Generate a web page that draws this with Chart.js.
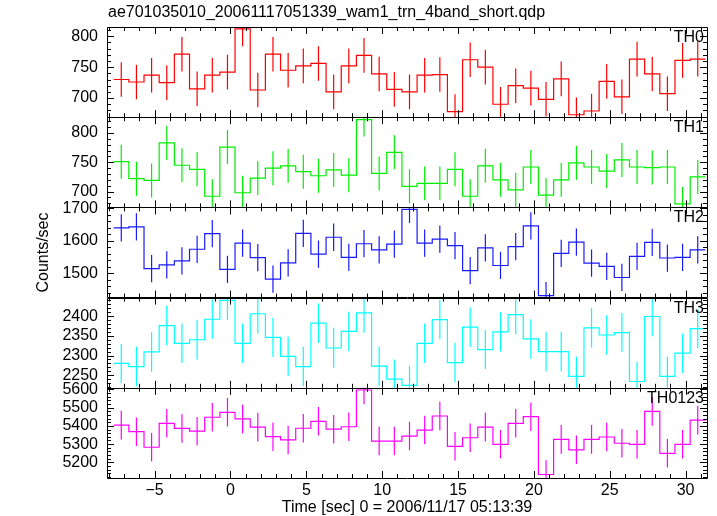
<!DOCTYPE html>
<html>
<head>
<meta charset="utf-8">
<script src="https://cdn.jsdelivr.net/npm/chart.js@4/dist/chart.umd.min.js"></script>
<style>
html,body{margin:0;padding:0;background:#fff;}
canvas{display:block;}
</style>
</head>
<body>
<canvas id="c" width="717" height="516"></canvas>
<script>
// ---- data ----
const chartTitle = 'ae701035010_20061117051339_wam1_trn_4band_short.qdp';
const xTitle = 'Time [sec] 0 = 2006/11/17 05:13:39';
const yTitle = 'Counts/sec';
const times = [-7.2,-6.2,-5.2,-4.2,-3.2,-2.2,-1.2,-0.2,0.8,1.8,2.8,3.8,4.8,5.8,6.8,7.8,8.8,9.8,10.8,11.8,12.8,13.8,14.8,15.8,16.8,17.8,18.8,19.8,20.8,21.8,22.8,23.8,24.8,25.8,26.8,27.8,28.8,29.8,30.8];
const th0 = [730,726,737,725,771,715,737,742,812,713,771,745,752,756,710,752,769,739,714,710,737,738,678,762,750,690,720,716,698,731,673,679,727,702,763,739,707,761,763];
const th1 = [751,722,719,783,745,738,692,776,698,723,740,744,734,727,737,728,823,731,767,709,714,714,738,692,744,720,703,742,694,720,749,742,735,754,742,741,742,679,725];
const th2 = [1640,1643,1514,1526,1538,1574,1622,1512,1593,1548,1482,1532,1623,1559,1611,1549,1591,1572,1590,1697,1593,1605,1585,1508,1578,1524,1582,1646,1431,1561,1596,1531,1521,1487,1552,1595,1547,1549,1572];
const th3 = [2280,2272,2309,2376,2331,2340,2392,2440,2331,2406,2346,2298,2272,2382,2319,2361,2408,2273,2240,2224,2331,2391,2282,2372,2315,2360,2404,2342,2310,2310,2247,2370,2352,2358,2234,2399,2247,2306,2368];
const th0123 = [5404,5368,5283,5414,5386,5371,5447,5474,5438,5393,5341,5323,5387,5425,5382,5395,5596,5317,5317,5344,5377,5454,5288,5335,5393,5299,5414,5450,5134,5326,5269,5326,5339,5305,5299,5479,5250,5299,5431];
const errTH0 = 28, errTH1 = 29, errTH2 = 42, errTH3 = 50, errTH0123 = 78;
const xTicks = [-5,0,5,10,15,20,25,30];
const yTicksTH0 = [700,750,800];
const yTicksTH1 = [700,750,800];
const yTicksTH2 = [1500,1600,1700];
const yTicksTH3 = [2250,2300,2350,2400];
const yTicksTH0123 = [5200,5300,5400,5500,5600];
const panelNames = ['TH0','TH1','TH2','TH3','TH0123'];

// ---- styling / layout ----
const FONT = 'Liberation Sans, Arial, sans-serif';
const binHalf = 0.5;
const panels = [
  {id:'y0', name:panelNames[0], values:th0, err:errTH0, color:'#ff0000', min:669, max:815, ticks:yTicksTH0, minor:10},
  {id:'y1', name:panelNames[1], values:th1, err:errTH1, color:'#00ee00', min:673, max:827, ticks:yTicksTH1, minor:10},
  {id:'y2', name:panelNames[2], values:th2, err:errTH2, color:'#1a1aff', min:1425, max:1703, ticks:yTicksTH2, minor:20},
  {id:'y3', name:panelNames[3], values:th3, err:errTH3, color:'#00ffff', min:2218, max:2447, ticks:yTicksTH3, minor:10},
  {id:'y4', name:panelNames[4], values:th0123, err:errTH0123, color:'#ff00ff', min:5115, max:5608, ticks:yTicksTH0123, minor:20}
];

const datasets = [];
panels.forEach(p => {
  const step = [];
  const errs = [];
  times.forEach((t, i) => {
    const v = p.values[i];
    step.push({x: t - binHalf, y: v}, {x: t + binHalf, y: v});
    errs.push({x: t, y: v - p.err}, {x: t, y: v + p.err}, {x: t, y: null});
  });
  datasets.push({data: step, yAxisID: p.id, borderColor: p.color, borderWidth: 1.2, pointRadius: 0, fill: false, tension: 0, clip: 0});
  datasets.push({data: errs, yAxisID: p.id, borderColor: p.color, borderWidth: 1.2, pointRadius: 0, fill: false, spanGaps: false, clip: 0});
});

const tickFont = {family: FONT, size: 16};
const scales = {
  x: {
    type: 'linear', position: 'bottom', min: -8.14, max: 31.41,
    grid: {display: false, drawTicks: false}, border: {display: false},
    ticks: {font: tickFont, color: '#000', padding: 3, maxRotation: 0, autoSkip: false,
      callback: v => (v < 0 ? '\u2212' + Math.abs(v) : String(v))},
    afterBuildTicks: s => { s.ticks = xTicks.map(v => ({value: v})); },
    afterFit: s => { s.height = 38; }
  }
};
// stacked axes: define bottom panel first so that the last one sits on top
panels.slice().reverse().forEach(p => {
  scales[p.id] = {
    type: 'linear', position: 'left', stack: 'panels', stackWeight: 1,
    min: p.min, max: p.max,
    grid: {display: false, drawTicks: false}, border: {display: false},
    ticks: {font: tickFont, color: '#000', padding: 9, autoSkip: false, callback: v => String(v)},
    afterBuildTicks: s => { s.ticks = p.ticks.map(v => ({value: v})); },
    afterFit: s => { s.width = 107; }
  };
});

const framePlugin = {
  id: 'frames',
  afterDatasetsDraw(chart) {
    const ctx = chart.ctx;
    const xs = chart.scales.x;
    ctx.save();
    ctx.strokeStyle = '#000';
    ctx.lineWidth = 1;
    panels.forEach(p => {
      const ys = chart.scales[p.id];
      const L = xs.left, R = xs.right, T = ys.top, B = ys.bottom;
      ctx.beginPath();
      ctx.rect(Math.round(L) + 0.5, Math.round(T) + 0.5, Math.round(R - L), Math.round(B - T));
      ctx.stroke();
      ctx.beginPath();
      for (let v = Math.ceil(xs.min); v <= Math.floor(xs.max); v++) {
        const px = Math.round(xs.getPixelForValue(v)) + 0.5;
        const len = (v % 5 === 0) ? 7 : 4;
        ctx.moveTo(px, T); ctx.lineTo(px, T + len);
        ctx.moveTo(px, B); ctx.lineTo(px, B - len);
      }
      const start = Math.ceil(p.min / p.minor) * p.minor;
      for (let v = start; v <= p.max; v += p.minor) {
        const py = Math.round(ys.getPixelForValue(v)) + 0.5;
        const len = p.ticks.includes(v) ? 7 : 4;
        ctx.moveTo(L, py); ctx.lineTo(L + len, py);
        ctx.moveTo(R, py); ctx.lineTo(R - len, py);
      }
      ctx.stroke();
      ctx.fillStyle = '#000';
      ctx.font = '16px ' + FONT;
      ctx.textAlign = 'right';
      ctx.textBaseline = 'middle';
      ctx.fillText(p.name, R - 3, T + 10.5);
    });
    ctx.fillStyle = '#000';
    ctx.font = '16px ' + FONT;
    ctx.textAlign = 'left';
    ctx.textBaseline = 'middle';
    ctx.fillText(chartTitle, 108, 13);
    ctx.textAlign = 'center';
    ctx.fillText(xTitle, (xs.left + xs.right) / 2, 508);
    ctx.translate(44, (chart.chartArea.top + chart.chartArea.bottom) / 2);
    ctx.rotate(-Math.PI / 2);
    ctx.fillText(yTitle, 0, 0);
    ctx.restore();
  }
};

new Chart(document.getElementById('c'), {
  type: 'line',
  data: {datasets},
  options: {
    responsive: false,
    animation: false,
    layout: {padding: {top: 27, right: 10, left: 0, bottom: 0}},
    plugins: {legend: {display: false}, tooltip: {enabled: false}, title: {display: false}},
    scales
  },
  plugins: [framePlugin]
});
</script>
</body>
</html>
